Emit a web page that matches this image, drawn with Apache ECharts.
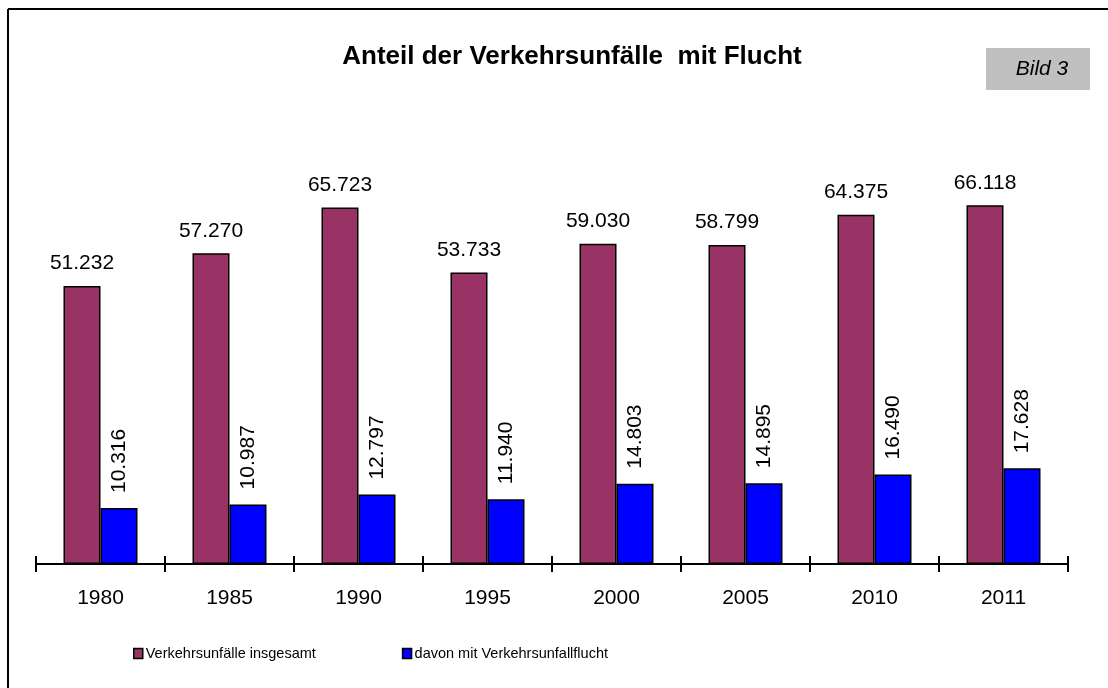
<!DOCTYPE html>
<html>
<head>
<meta charset="utf-8">
<script src="https://cdn.jsdelivr.net/npm/echarts@6/dist/echarts.min.js"></script>
<style>
  html, body { margin: 0; padding: 0; background: #fff; }
  #chartContainer { width: 1108px; height: 688px; }
</style>
</head>
<body>
<div id="chartContainer"></div>
<script>
var years = ['1980', '1985', '1990', '1995', '2000', '2005', '2010', '2011'];
var insgesamt = [51232, 57270, 65723, 53733, 59030, 58799, 64375, 66118];
var flucht = [10316, 10987, 12797, 11940, 14803, 14895, 16490, 17628];

var font = 'Liberation Sans, Arial, sans-serif';

// Zahlen im deutschen Format: 51.232
function fmt(p) {
    var s = String(p.value);
    return s.slice(0, s.length - 3) + '.' + s.slice(s.length - 3);
}

var myChart = echarts.init(document.getElementById('chartContainer'));
var option = {
    animation: false,
    backgroundColor: '#fff',
    textStyle: { fontFamily: font },
    title: {
        text: 'Anteil der Verkehrsunfälle  mit Flucht',
        left: 567,
        textAlign: 'center',
        top: 39,
        textStyle: { fontSize: 26, fontWeight: 'bold', color: '#000', fontFamily: font }
    },
    graphic: [
        { type: 'line', shape: { x1: 8, y1: 9, x2: 1108, y2: 9 }, style: { stroke: '#000', lineWidth: 2 } },
        { type: 'line', shape: { x1: 8, y1: 9, x2: 8, y2: 688 }, style: { stroke: '#000', lineWidth: 2 } },
        { type: 'rect', shape: { x: 986, y: 48, width: 104, height: 42 }, style: { fill: '#c0c0c0' } },
        {
            type: 'text', x: 1042, y: 69,
            style: { text: 'Bild 3', fontSize: 21, fontStyle: 'italic', fontFamily: font, fill: '#000', align: 'center', verticalAlign: 'middle' }
        }
    ],
    legend: {
        left: 128,
        top: 641,
        itemWidth: 9,
        itemHeight: 10,
        itemGap: 86,
        icon: 'rect',
        itemStyle: { borderColor: '#000', borderWidth: 1.5 },
        textStyle: { fontSize: 14.5, color: '#000', fontFamily: font, padding: [0, 0, 0, -2] },
        data: ['Verkehrsunfälle insgesamt', 'davon mit Verkehrsunfallflucht']
    },
    grid: { left: 36, right: 40, top: 130, bottom: 124 },
    xAxis: [{
        type: 'category',
        data: years,
        axisLine: { show: true, lineStyle: { color: '#000', width: 2 } },
        axisTick: { show: true, length: 8, lineStyle: { color: '#000', width: 2 } },
        axisLabel: { color: '#000', fontSize: 21, margin: 24, fontFamily: font }
    }, {
        type: 'category',
        data: years,
        position: 'bottom',
        axisLine: { show: false },
        axisTick: { show: true, inside: true, length: 8, lineStyle: { color: '#000', width: 2 } },
        axisLabel: { show: false }
    }],
    yAxis: {
        type: 'value',
        min: 0,
        max: 80000,
        show: false,
        splitLine: { show: false }
    },
    series: [{
        name: 'Verkehrsunfälle insgesamt',
        type: 'bar',
        data: insgesamt,
        barWidth: 37,
        barGap: '0%',
        itemStyle: { color: '#993366', borderColor: '#000', borderWidth: 1.5 },
        label: {
            show: true,
            position: 'top',
            distance: 12,
            formatter: fmt,
            color: '#000',
            fontSize: 21,
            fontFamily: font
        }
    }, {
        name: 'davon mit Verkehrsunfallflucht',
        type: 'bar',
        data: flucht,
        barWidth: 37,
        itemStyle: { color: '#0000ff', borderColor: '#000', borderWidth: 1.5 },
        label: {
            show: true,
            position: 'top',
            rotate: 90,
            align: 'left',
            verticalAlign: 'middle',
            distance: 15,
            formatter: fmt,
            color: '#000',
            fontSize: 21,
            fontFamily: font
        }
    }]
};

// 使用刚指定的配置项和数据显示图表。
myChart.setOption(option);
</script>
</body>
</html>
